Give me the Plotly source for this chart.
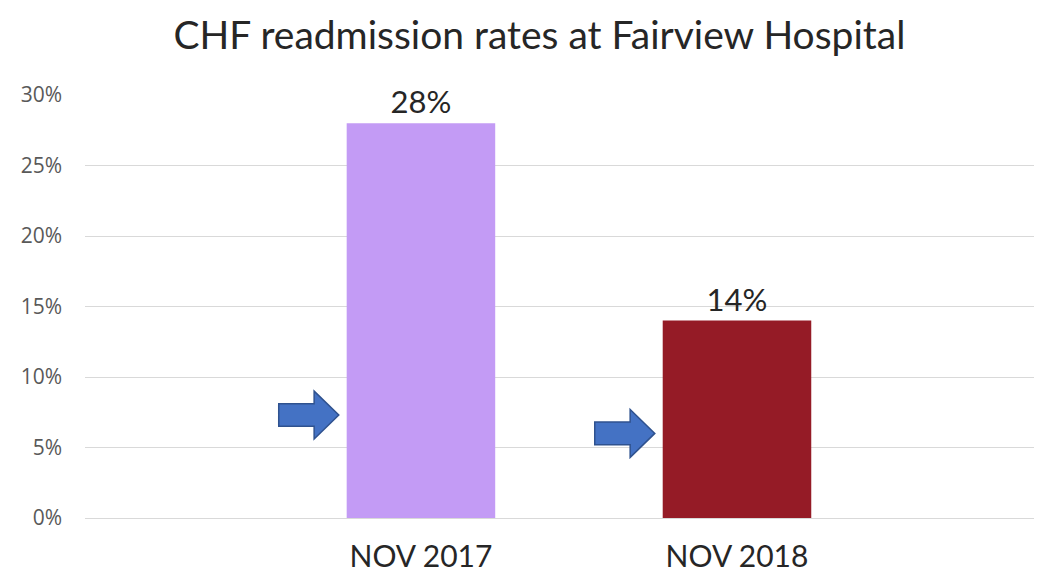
import plotly.graph_objects as go

categories = ["NOV 2017", "NOV 2018"]
rates = [28, 14]
bar_colors = ["#C39BF5", "#951B26"]
labels = ["28%", "14%"]
# arrow markers: (bar index, value level in %)
arrow_levels = [7.3, 6.0]

x_pos = list(range(len(categories)))
fig = go.Figure()
fig.add_trace(go.Bar(
    x=x_pos, y=rates, width=0.47,
    marker=dict(color=bar_colors, line=dict(width=0)),
    text=labels, textposition="outside",
    textfont=dict(family="Lato, Open Sans, sans-serif", size=31, color="#262626"),
    cliponaxis=False, hoverinfo="skip"
))

for i, lvl in enumerate(arrow_levels):
    tip = x_pos[i] - 0.26
    tail = tip - 0.19
    hb = tip - 0.078
    sh, hh = 0.8, 1.7
    path = (f"M {tail},{lvl-sh} L {hb},{lvl-sh} L {hb},{lvl-hh} L {tip},{lvl} "
            f"L {hb},{lvl+hh} L {hb},{lvl+sh} L {tail},{lvl+sh} Z")
    fig.add_shape(type="path", path=path, xref="x", yref="y",
                  fillcolor="#4472C4", line=dict(color="#2F528F", width=1.5))

fig.update_layout(
    width=1042, height=578,
    paper_bgcolor="white", plot_bgcolor="white",
    margin=dict(l=77, r=15, t=87, b=68),
    title=dict(text="CHF readmission rates at Fairview Hospital", x=0.51, xanchor="center",
               y=0.952, yanchor="middle",
               font=dict(family="Lato, Open Sans, sans-serif", size=39, color="#262626")),
    showlegend=False,
    xaxis=dict(range=[-1.063, 1.943], tickvals=x_pos, ticktext=categories,
               showgrid=False, zeroline=False, showline=False, ticks="",
               ticklabelstandoff=18,
               tickfont=dict(family="Lato, Open Sans, sans-serif", size=30, color="#262626")),
    yaxis=dict(range=[0, 30], dtick=5, ticksuffix="%", showgrid=True, gridcolor="#D9D9D9",
               gridwidth=1.3, zeroline=True, zerolinecolor="#D9D9D9", zerolinewidth=1.3,
               showline=False, ticks="", ticklabelstandoff=22,
               tickfont=dict(family="Open Sans, sans-serif", size=21, color="#595959")),
)
fig.write_html("out.html")
